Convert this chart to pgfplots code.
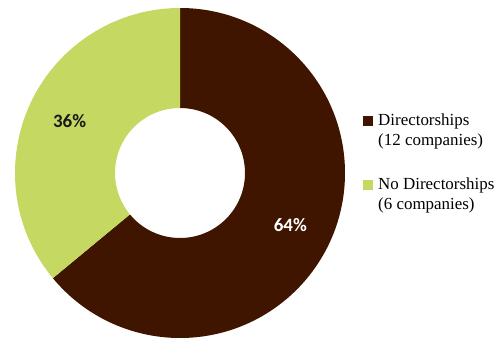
\documentclass[border=0pt]{standalone}
\usepackage{pgfplots}
\pgfplotsset{compat=1.18}
\usepackage{pgfplotstable}
\usepackage{fontspec}
\setmainfont{Liberation Serif}
\newfontfamily\labelfont{Carlito}
\definecolor{darkbrown}{RGB}{64,21,0}
\definecolor{lightgreen}{RGB}{196,216,98}
\pgfplotstableread{
label value
Directorships 64
NoDirectorships 36
}\piedata
\begin{document}
\begin{tikzpicture}
\pgfplotstablegetelem{0}{value}\of\piedata \pgfmathtruncatemacro\va{\pgfplotsretval}
\pgfplotstablegetelem{1}{value}\of\piedata \pgfmathtruncatemacro\vb{\pgfplotsretval}
\pgfmathsetmacro\aEnd{90-3.6*\va}
\pgfmathsetmacro\bEnd{\aEnd-3.6*\vb}
\pgfmathsetmacro\aMid{90-1.8*\va}
\pgfmathsetmacro\bMid{\aEnd-1.8*\vb}
\begin{axis}[width=496bp,height=338bp,scale only axis,hide axis,
  xmin=-180,xmax=316,ymin=-165,ymax=173,clip=false]
\addplot[draw=none] coordinates {(-180,-165) (316,173)};
\coordinate (ll) at (axis cs:-180,-165);
\coordinate (ur) at (axis cs:316,173);
\fill[darkbrown] (axis cs:0,0) ++(90:165bp) arc[start angle=90,end angle=\aEnd,radius=165bp]
  -- ++(\aEnd:-100bp) arc[start angle=\aEnd,end angle=90,radius=65bp] -- cycle;
\fill[lightgreen] (axis cs:0,0) ++(\aEnd:165bp) arc[start angle=\aEnd,end angle=\bEnd,radius=165bp]
  -- ++(\bEnd:-100bp) arc[start angle=\bEnd,end angle=\aEnd,radius=65bp] -- cycle;
\path (axis cs:0,0) ++(\aMid:122bp) node[font=\labelfont\bfseries\fontsize{19}{21}\selectfont,text=white] {\va\%};
\path (axis cs:0,0) ++(\bMid:122bp) node[font=\labelfont\bfseries\fontsize{19}{21}\selectfont,text=black!90] {\vb\%};
\fill[darkbrown] (axis cs:183,47) rectangle (axis cs:193,57);
\fill[lightgreen] (axis cs:183,-17) rectangle (axis cs:193,-7);
\node[anchor=west,align=left,inner sep=0pt,font=\fontsize{17}{20}\selectfont] at (axis cs:198,42) {Directorships\\(12 companies)};
\node[anchor=west,align=left,inner sep=0pt,font=\fontsize{17}{20}\selectfont] at (axis cs:198,-22) {No Directorships\\(6 companies)};
\end{axis}
\pgfresetboundingbox
\useasboundingbox (ll) rectangle (ur);
\end{tikzpicture}
\end{document}
